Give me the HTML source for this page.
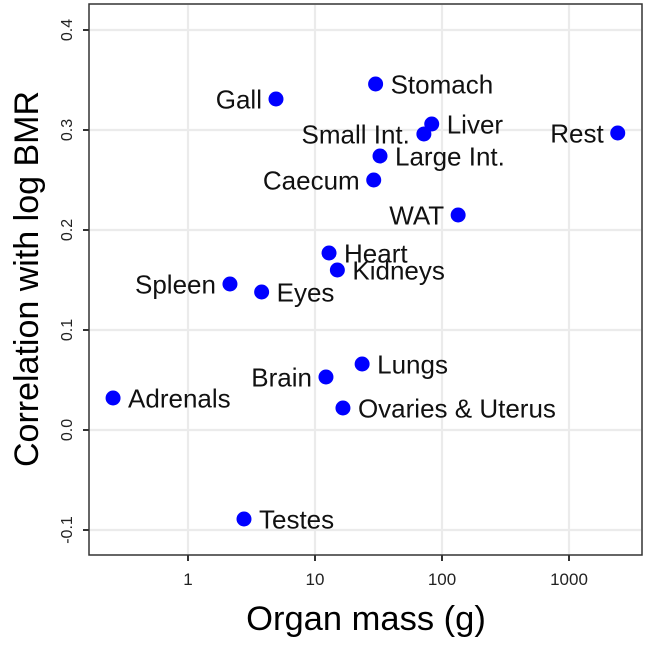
<!DOCTYPE html>
<html><head><meta charset="utf-8"><style>
body{margin:0;background:#fff}
svg text{font-family:"Liberation Sans",sans-serif}
</style></head><body>
<svg id="chart" width="645" height="642">
<rect x="89" y="4" width="553" height="551" fill="#fff" stroke="#333" stroke-width="1.5"/>
<g id="grid"></g><g id="axes"></g><g id="pts"></g>
<text x="366" y="630" text-anchor="middle" font-size="34.5">Organ mass (g)</text>
<text transform="translate(38,279) rotate(-90)" text-anchor="middle" font-size="34">Correlation with log BMR</text>
</svg>
<script>
const names=["Gall","Stomach","Liver","Small Int.","Large Int.","Caecum","Rest","WAT","Heart","Kidneys","Spleen","Eyes","Lungs","Brain","Ovaries & Uterus","Adrenals","Testes"];
const masses=[4.93,30,83,72,32.5,29,2420,134,12.9,15,2.14,3.8,23.5,12.2,16.6,0.257,2.76];
const corrs=[0.331,0.346,0.306,0.296,0.274,0.25,0.297,0.215,0.177,0.16,0.146,0.138,0.066,0.053,0.022,0.032,-0.089];
const labelLeft=[true,false,false,true,false,true,true,true,false,false,true,false,false,true,false,false,false];
const xTicks=[1,10,100,1000];
const yTicks=[-0.1,0.0,0.1,0.2,0.3,0.4];
const yTickLabels=["-0.1","0.0","0.1","0.2","0.3","0.4"];
const NS="http://www.w3.org/2000/svg";
const X=v=>188+127*Math.log10(v);
const Y=v=>430-1000*v;
function mk(t,a,p){const e=document.createElementNS(NS,t);for(const k in a)e.setAttribute(k,a[k]);p.appendChild(e);return e;}
const g=document.getElementById('grid'),ax=document.getElementById('axes'),pts=document.getElementById('pts');
xTicks.forEach(v=>{
 const l=mk('line',{x1:X(v),x2:X(v),y1:5,y2:554,stroke:'#ebebeb','stroke-width':2.2},g);
 
 
 const t=mk('line',{x1:X(v),x2:X(v),y1:555,y2:561,stroke:'#333','stroke-width':2},ax);
 
 
 const tx=mk('text',{x:X(v),y:585,'text-anchor':'middle','font-size':17,fill:'#222'},ax);
 tx.textContent=String(v);
 
 
});
yTicks.forEach((v,i)=>{
 const l=mk('line',{x1:90,x2:641,y1:Y(v),y2:Y(v),stroke:'#ebebeb','stroke-width':2.2},g);
 
 
 const t=mk('line',{x1:83,x2:89,y1:Y(v),y2:Y(v),stroke:'#333','stroke-width':2},ax);
 
 
 const tx=mk('text',{transform:`translate(72,${Y(v)}) rotate(-90)`,'text-anchor':'middle','font-size':16,fill:'#222'},ax);
 tx.textContent=yTickLabels[i];
 
 
});
names.forEach((n,i)=>{
 const cx=X(masses[i]),cy=Y(corrs[i]);
 const c=mk('circle',{cx:cx,cy:cy,r:7.5,fill:'#0000ff'},pts);
 
 
 const t=mk('text',{x:labelLeft[i]?cx-14:cx+15,y:cy+9.5,'text-anchor':labelLeft[i]?'end':'start','font-size':26,fill:'#111'},pts);
 t.textContent=n;
 
 
});
</script>
</body></html>
